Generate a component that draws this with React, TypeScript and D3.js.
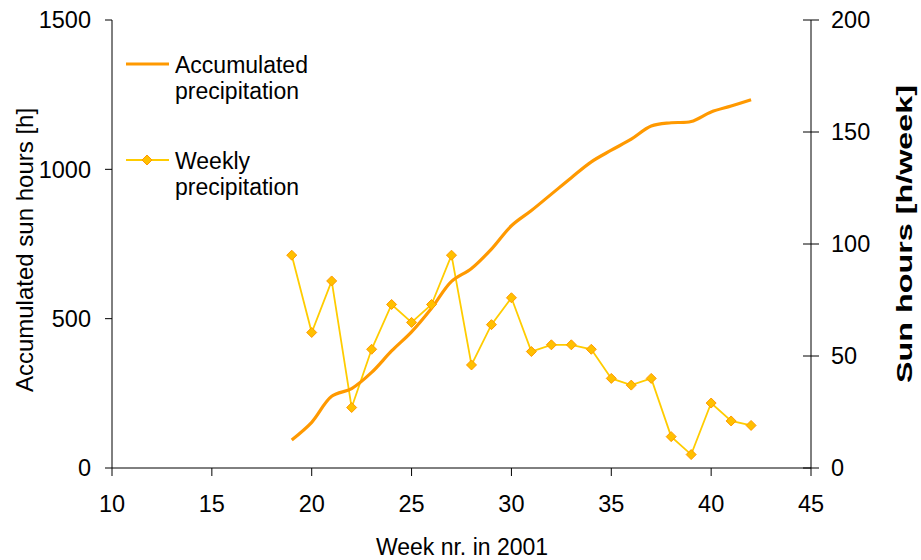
import React from "react";
import * as d3 from "d3";

const weeks = [19, 20, 21, 22, 23, 24, 25, 26, 27, 28, 29, 30, 31, 32, 33, 34, 35, 36, 37, 38, 39, 40, 41, 42];
const weekly = [95, 60.5, 83.5, 27, 53, 73, 65, 73, 95, 46, 64, 76, 52, 55, 55, 53, 40, 37, 40, 14, 6, 29, 21, 19];
const accumulated = [94, 153, 240, 266, 320, 392, 456, 535, 625, 668, 733, 811, 862, 917, 972, 1025, 1064, 1101, 1145, 1156, 1160, 1192, 1212, 1233];

const xTicks = [10, 15, 20, 25, 30, 35, 40, 45];
const leftTicks = [0, 500, 1000, 1500];
const rightTicks = [0, 50, 100, 150, 200];

const FONT = "'Liberation Sans', Arial, sans-serif";
const FS = 23.5;

export default function App() {
  const x = d3.scaleLinear().domain([10, 45]).range([112, 811]);
  const yL = d3.scaleLinear().domain([0, 1500]).range([468, 20]);
  const yR = d3.scaleLinear().domain([0, 200]).range([468, 20]);

  const accLine = d3
    .line<number>()
    .x((_, i) => x(weeks[i]))
    .y((d) => yL(d))
    .curve(d3.curveCatmullRom.alpha(0.5));
  const wkLine = d3
    .line<number>()
    .x((_, i) => x(weeks[i]))
    .y((d) => yR(d));

  const diamond = (cx: number, cy: number, r = 5) =>
    `M${cx},${cy - r}L${cx + r},${cy}L${cx},${cy + r}L${cx - r},${cy}Z`;

  const x0 = x(10);
  const x1 = x(45);
  const yb = yL(0);

  return (
    <svg
      width={921}
      height={560}
      style={{ position: "absolute", left: 0, top: 0, background: "#fff" }}
      fontFamily={FONT}
    >
      {/* axes */}
      <line x1={x0} y1={yL(1500)} x2={x0} y2={yb} stroke="#000" strokeWidth={1} />
      <line x1={x1} y1={yR(200)} x2={x1} y2={yb} stroke="#000" strokeWidth={1} />
      <line x1={x0} y1={yb} x2={x1} y2={yb} stroke="#000" strokeWidth={1} />

      {leftTicks.map((t) => (
        <g key={"l" + t}>
          <line x1={x0 - 7} x2={x0} y1={yL(t)} y2={yL(t)} stroke="#000" />
          <text x={91} y={yL(t)} dy="0.36em" textAnchor="end" fontSize={FS}>
            {t}
          </text>
        </g>
      ))}
      {rightTicks.map((t) => (
        <g key={"r" + t}>
          <line x1={x1 - 8} x2={x1 + 8} y1={yR(t)} y2={yR(t)} stroke="#000" />
          <text x={831} y={yR(t)} dy="0.36em" textAnchor="start" fontSize={FS}>
            {t}
          </text>
        </g>
      ))}
      {xTicks.map((t) => (
        <g key={"x" + t}>
          <line x1={x(t)} x2={x(t)} y1={yb} y2={yb + 8} stroke="#000" />
          <text x={x(t)} y={512} textAnchor="middle" fontSize={FS}>
            {t}
          </text>
        </g>
      ))}

      <text x={462} y={555} textAnchor="middle" fontSize={23}>
        Week nr. in 2001
      </text>
      <text
        transform={`translate(33,250) rotate(-90)`}
        textAnchor="middle"
        fontSize={24}
      >
        Accumulated sun hours [h]
      </text>
      <text
        transform={`translate(912,234) rotate(-90)`}
        textAnchor="middle"
        fontSize={22}
        fontWeight="bold"
        textLength={298}
        lengthAdjust="spacingAndGlyphs"
      >
        Sun hours [h/week]
      </text>

      {/* series */}
      <path d={wkLine(weekly) || ""} fill="none" stroke="#FFCC00" strokeWidth={1.8} />
      <path d={accLine(accumulated) || ""} fill="none" stroke="#FF9900" strokeWidth={3.2} />
      {weekly.map((v, i) => (
        <path
          key={"d" + i}
          d={diamond(x(weeks[i]), yR(v))}
          fill="#FFC000"
          stroke="#FF9900"
          strokeWidth={1}
        />
      ))}

      {/* legend */}
      <line x1={126} x2={169} y1={64} y2={64} stroke="#FF9900" strokeWidth={3.2} />
      <text x={175} y={72.5} fontSize={23}>Accumulated</text>
      <text x={175} y={98.5} fontSize={23}>precipitation</text>

      <line x1={126} x2={169} y1={160} y2={160} stroke="#FFCC00" strokeWidth={1.8} />
      <path d={diamond(147, 160)} fill="#FFC000" stroke="#FF9900" strokeWidth={1} />
      <text x={175} y={168.5} fontSize={23}>Weekly</text>
      <text x={175} y={194.5} fontSize={23}>precipitation</text>
    </svg>
  );
}
